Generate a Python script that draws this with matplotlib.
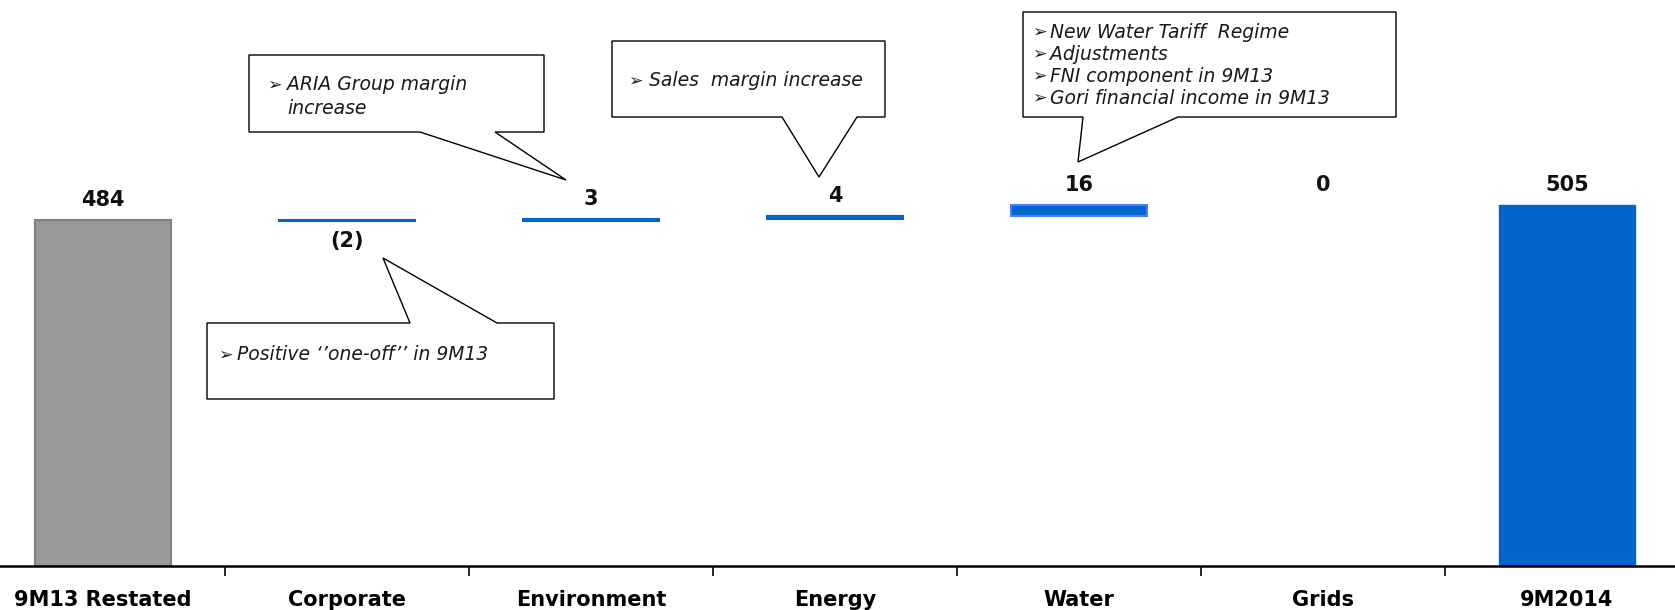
import numpy as np
import matplotlib
matplotlib.use("Agg")
import matplotlib.pyplot as plt
from matplotlib.patches import Polygon

# data
categories = ["9M13 Restated", "Corporate", "Environment", "Energy", "Water", "Grids", "9M2014"]
start_value = 484
deltas = [-2, 3, 4, 16, 0]
end_value = 505

W, H = 1675, 610
fig = plt.figure(figsize=(W / 100, H / 100), dpi=100)
ax = fig.add_axes([-19 / W, 44 / H, 1708 / W, 558 / H])

gray = "#999999"
blue = "#0066CC"

x = np.arange(len(categories))
bw = 0.56

# totals
ax.bar(x[0], start_value, width=bw, color=gray, edgecolor="#808080", linewidth=1.5)
ax.bar(x[-1], end_value, width=bw, color=blue, edgecolor=blue, linewidth=1)

# floating bars
running = start_value
label_pos = [(x[0], start_value, 1)]
for i, d in enumerate(deltas):
    xi = x[i + 1]
    bottom = min(running, running + d)
    if d != 0:
        edge = "#4D7CFF" if abs(d) > 10 else blue
        ax.bar(xi, abs(d), bottom=bottom, width=bw, color=blue, edgecolor=edge, linewidth=1.5)
    if d < 0:
        label_pos.append((xi, bottom, -1))
    else:
        label_pos.append((xi, running + d, 1))
    running += d
label_pos.append((x[-1], end_value, 1))

values = [start_value] + deltas + [end_value]
for (xi, yi, sgn), v in zip(label_pos, values):
    txt = f"({abs(v)})" if v < 0 else f"{v}"
    ax.annotate(txt, (xi, yi), xytext=(0, 7 * sgn), textcoords="offset points",
                ha="center", va="bottom" if sgn > 0 else "top",
                fontsize=15, fontweight="bold", color="#111111")

ax.set_xlim(-0.5, len(categories) - 0.5)
ax.set_ylim(0, 780)
ax.set_xticks(x)
ax.set_xticklabels(categories, fontsize=15, fontweight="bold")
ax.set_xticks(x[:-1] + 0.5, minor=True)
ax.tick_params(axis="x", which="major", length=0, pad=17)
ax.tick_params(axis="x", which="minor", length=7, width=1.2, direction="out")
ax.set_yticks([])
for s in ["top", "left", "right"]:
    ax.spines[s].set_visible(False)
ax.spines["bottom"].set_linewidth(1.8)


# callouts, drawn in figure pixels (y from top)
def fp(px, py):
    return (px / W, 1 - py / H)


def bubble(L, T, R, B, b1, b2, tip, up=False):
    if up:
        pts = [(L, B), (R, B), (R, T), (b2, T), tip, (b1, T), (L, T)]
    else:
        pts = [(L, T), (R, T), (R, B), (b2, B), tip, (b1, B), (L, B)]
    poly = Polygon([fp(*p) for p in pts], closed=True, facecolor="white",
                   edgecolor="black", linewidth=1.0, transform=fig.transFigure)
    fig.add_artist(poly)


def bullet(px, tx, py, s, arrow=True):
    if arrow:
        fig.text(*fp(px, py), "\u27a2", fontsize=12.5, ha="left", va="center", color="#222222")
    fig.text(*fp(tx, py), s, fontsize=13.5, style="italic", ha="left", va="center", color="#1a1a1a")


bubble(249, 55, 544, 132, 420, 495, (566, 180))
bullet(267, 287, 85, "ARIA Group margin")
bullet(267, 287, 108, "increase", arrow=False)

bubble(612, 41, 885, 117, 782, 857, (819, 177))
bullet(628, 649, 81, "Sales  margin increase")

bubble(1023, 12, 1396, 117, 1083, 1178, (1078, 162))
for k, s in enumerate(["New Water Tariff  Regime", "Adjustments",
                       "FNI component in 9M13", "Gori financial income in 9M13"]):
    bullet(1032, 1050, 32 + 22 * k, s)

bubble(207, 323, 554, 399, 410, 497, (383, 258), up=True)
bullet(218, 237, 355, "Positive \u2018\u2019one-off\u2019\u2019 in 9M13")

fig.savefig("out.png", dpi=100)
